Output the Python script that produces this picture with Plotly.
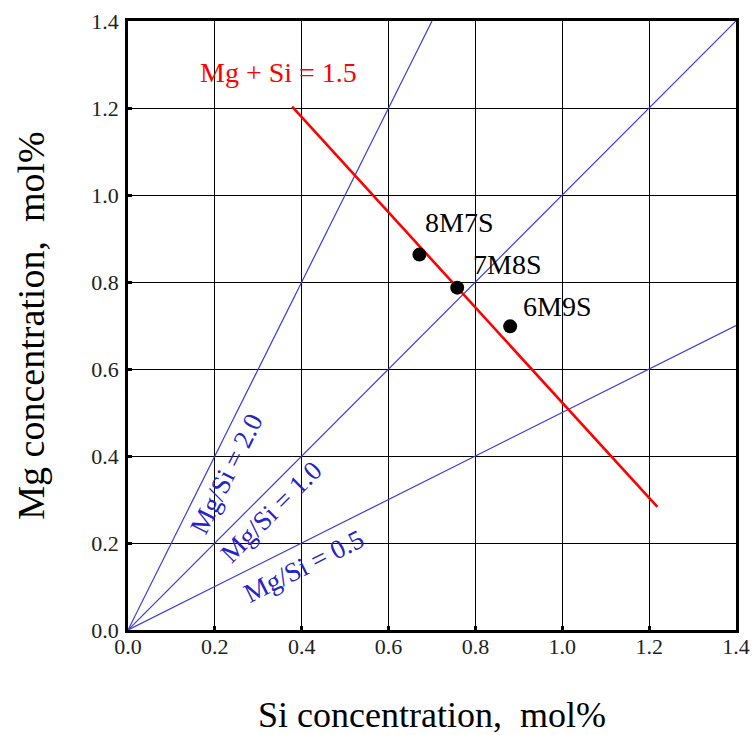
import math
import plotly.graph_objects as go

# Ternary alloy compositions (Si, Mg in mol%)
alloy_names = ["8M7S", "7M8S", "6M9S"]
alloy_si = [0.671, 0.758, 0.880]
alloy_mg = [0.863, 0.787, 0.698]

# Constant-ratio guide lines Mg/Si = r, drawn from the origin
ratio_values = [2.0, 1.0, 0.5]
ratio_labels = ["Mg/Si = 2.0", "Mg/Si = 1.0", "Mg/Si = 0.5"]
ratio_label_si = [0.227, 0.329, 0.406]
ratio_label_mg = [0.358, 0.272, 0.146]

# Mg + Si = 1.5 line endpoints
sum_line_si = [0.378, 1.219]
sum_line_mg = [1.203, 0.283]

# Sample label anchors
alloy_label_si = [0.762, 0.873, 0.988]
alloy_label_mg = [0.936, 0.840, 0.743]

tick_vals = [0.0, 0.2, 0.4, 0.6, 0.8, 1.0, 1.2, 1.4]
tick_text = ["0.0", "0.2", "0.4", "0.6", "0.8", "1.0", "1.2", "1.4"]

SERIF = "Liberation Serif, Times New Roman, serif"
BLUE = "#3c3cd8"
BLUE_TEXT = "#2424c8"

fig = go.Figure()

xmax = 1.4
for r in ratio_values:
    x_end = min(xmax, xmax / r)
    fig.add_trace(go.Scatter(
        x=[0, x_end], y=[0, r * x_end], mode="lines",
        line=dict(color=BLUE, width=1.2), showlegend=False, hoverinfo="skip"))

fig.add_trace(go.Scatter(
    x=sum_line_si, y=sum_line_mg, mode="lines",
    line=dict(color="#ff0000", width=2.6), showlegend=False))

fig.add_trace(go.Scatter(
    x=alloy_si, y=alloy_mg, mode="markers",
    marker=dict(color="black", size=14), showlegend=False))

for name, xs, ys in zip(alloy_names, alloy_label_si, alloy_label_mg):
    fig.add_annotation(x=xs, y=ys, text=name, showarrow=False,
                       font=dict(family=SERIF, size=28, color="black"))

fig.add_annotation(x=0.347, y=1.281, text="Mg + Si = 1.5", showarrow=False,
                   font=dict(family=SERIF, size=28, color="#ff0000"))

for r, lab, xs, ys in zip(ratio_values, ratio_labels, ratio_label_si, ratio_label_mg):
    ang = -math.degrees(math.atan(r))
    fig.add_annotation(x=xs, y=ys, text=lab, showarrow=False, textangle=ang,
                       font=dict(family=SERIF, size=27, color=BLUE_TEXT))

axis_common = dict(
    range=[0, 1.4], tickvals=tick_vals, ticktext=tick_text,
    showgrid=True, gridcolor="black", gridwidth=1.4,
    showline=True, linecolor="black", linewidth=2.5, mirror=True,
    ticks="inside", ticklen=4, tickwidth=2.5, tickcolor="black",
    tickfont=dict(family=SERIF, size=22, color="#222222"),
    zeroline=False, fixedrange=True, automargin=False,
)

fig.update_xaxes(**axis_common, ticklabelstandoff=-5,
                 title=dict(text="Si concentration,\u00a0 mol%",
                            font=dict(family=SERIF, size=36, color="black"),
                            standoff=44))
fig.update_yaxes(**axis_common, ticklabelstandoff=2,
                 title=dict(text="Mg concentration,\u00a0 mol%",
                            font=dict(family=SERIF, size=38, color="black"),
                            standoff=36))

fig.update_layout(
    width=753, height=735,
    margin=dict(l=128, r=17, t=21, b=105),
    plot_bgcolor="white", paper_bgcolor="white",
)

fig.write_html("out.html")
